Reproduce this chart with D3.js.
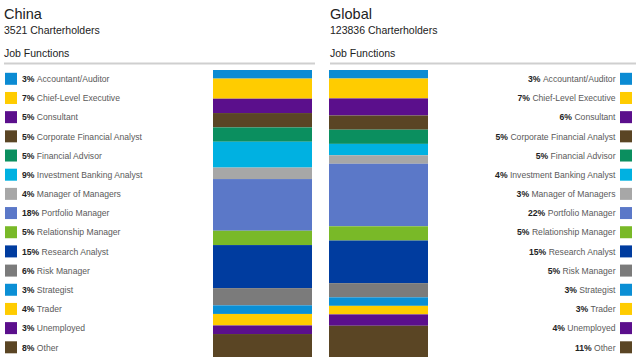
<!DOCTYPE html>
<html>
<head>
<meta charset="utf-8">
<script src="https://cdn.jsdelivr.net/npm/d3@7"></script>
<style>
  body { margin: 0; background: #fff; }
  text { font-family: "Liberation Sans", Arial, sans-serif; }
</style>
</head>
<body>
<svg id="chart" width="640" height="364"></svg>
<script>
// job functions, top to bottom
const functions = ["Accountant/Auditor", "Chief-Level Executive", "Consultant", "Corporate Financial Analyst",
  "Financial Advisor", "Investment Banking Analyst", "Manager of Managers", "Portfolio Manager",
  "Relationship Manager", "Research Analyst", "Risk Manager", "Strategist", "Trader", "Unemployed", "Other"]
const colors = ["#0b8bd3", "#ffcc00", "#5b0f8c", "#5a4524", "#0b8f5f", "#00b1e1", "#a7a7a7", "#5b78c8",
  "#79b928", "#003c9f", "#7b7b7b", "#0b8fd5", "#ffcc00", "#5b0f8c", "#5a4524"]
const chinaValues = [3, 7, 5, 5, 5, 9, 4, 18, 5, 15, 6, 3, 4, 3, 8]
const globalValues = [3, 7, 6, 5, 5, 4, 3, 22, 5, 15, 5, 3, 3, 4, 11]
const panels = [
  {title: "China", sub: "3521 Charterholders", values: chinaValues, side: "left"},
  {title: "Global", sub: "123836 Charterholders", values: globalValues, side: "right"}
]

const svg = d3.select("#chart")
const rowY = d3.scalePoint().domain(functions).range([78.8, 347.3])

panels.forEach(p => {
    let left = p.side == "left"
    let x0 = left ? 4 : 330
    let g = svg.append("g")

    g.append("text").attr("x", x0).attr("y", 19).attr("font-size", 14.5).attr("fill", "#222").text(p.title)
    g.append("text").attr("x", x0).attr("y", 33.5).attr("font-size", 10.5).attr("fill", "#222").text(p.sub)
    g.append("text").attr("x", x0).attr("y", 57).attr("font-size", 10.5).attr("fill", "#222").text("Job Functions")
    g.append("rect").attr("x", x0).attr("y", 62.5).attr("width", left ? 311 : 306).attr("height", 2).attr("fill", "#cfcfcf")

    // stacked bar
    let total = d3.sum(p.values)
    let y = d3.scaleLinear().domain([0, total]).range([70, 357])
    let stack = d3.cumsum(p.values)
    let bx = left ? 213 : 329
    g.selectAll("rect.seg").data(p.values).join("rect")
        .attr("class", "seg")
        .attr("x", bx)
        .attr("width", 99)
        .attr("y", (d, i) => y(stack[i] - d))
        .attr("height", (d, i) => y(stack[i]) - y(stack[i] - d))
        .attr("fill", (d, i) => colors[i])

    // legend
    let sq = left ? 5 : 620
    let rows = g.selectAll("g.row").data(functions).join("g")
        .attr("class", "row")
        .attr("transform", d => `translate(0,${rowY(d)})`)
    rows.append("rect")
        .attr("x", sq).attr("y", -6).attr("width", 12).attr("height", 12)
        .attr("fill", (d, i) => colors[i])
    let t = rows.append("text")
        .attr("x", left ? 22 : 615.5)
        .attr("y", 3.2)
        .attr("font-size", 8.6)
        .attr("text-anchor", left ? "start" : "end")
    t.append("tspan").attr("font-weight", "bold").attr("fill", "#222").text((d, i) => p.values[i] + "% ")
    t.append("tspan").attr("fill", "#5a5a5a").text(d => d)
})
</script>
</body>
</html>
